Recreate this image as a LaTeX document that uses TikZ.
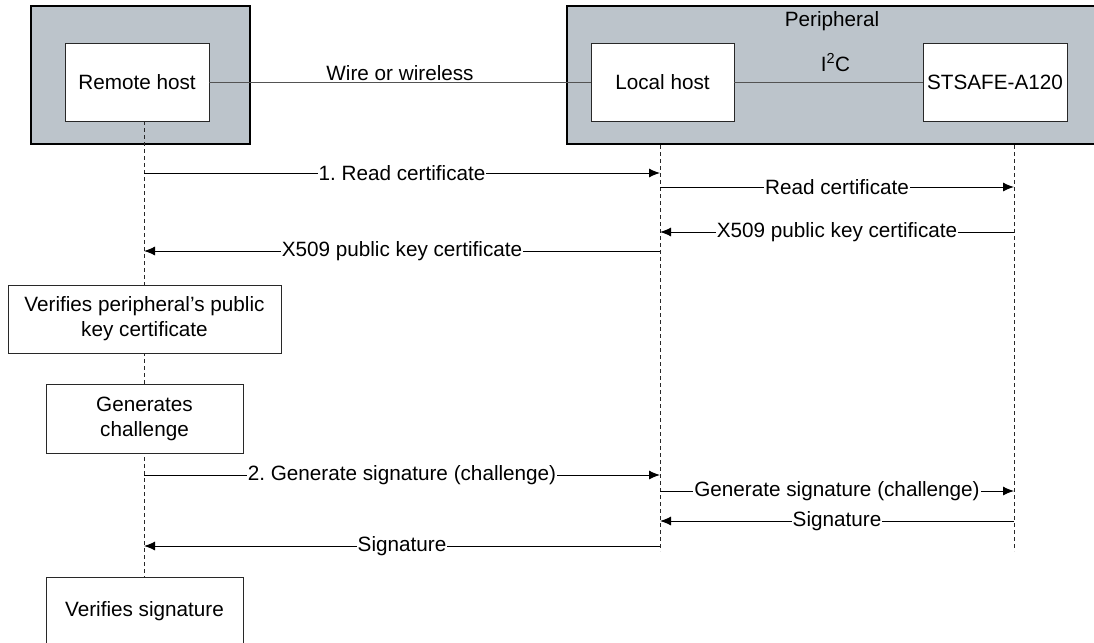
\documentclass[tikz,border=0pt]{standalone}
\usepackage{fontspec}
\setmainfont{Liberation Sans}
\usetikzlibrary{arrows.meta}

\definecolor{framegray}{RGB}{188,196,203}
\definecolor{edgegray}{RGB}{40,40,40}

\begin{document}
\frenchspacing
\begin{tikzpicture}[x = 1pt, y = -1pt, > = {Latex[length = 11pt, width = 9pt]},
	font = \fontsize{20.7}{25}\selectfont,
	frame/.style = {draw = black, fill = framegray, line width = 2pt},
	hostbox/.style = {draw = edgegray, fill = white, line width = 0.9pt, align = center, inner sep = 0pt},
	wire/.style = {draw = edgegray!80, line width = 0.9pt},
	lifeline/.style = {draw = edgegray, line width = 0.7pt, dash pattern = on 4pt off 3pt},
	msg/.style = {->, line width = 1pt},
	msglabel/.style = {midway, fill = white, inner sep = 1pt}]

% Definitions

\def\R{144}		% Remote host lifeline
\def\L{660}		% Local host lifeline
\def\S{1014}	% STSAFE lifeline

\clip (0, 0) rectangle (1094, 642);

% Frames

\draw [frame] (31, 6) rectangle (250, 144);
\draw [frame] (567, 6) rectangle (1110, 144);
\node [anchor = base] (peripheral) at (832, 27) {Peripheral};

% Lifelines

\coordinate (rtop) at (\R, 121);
\coordinate (rbot) at (\R, 577);
\coordinate (ltop) at (\L, 145);
\coordinate (lbot) at (\L, 551);
\coordinate (stop) at (\S, 145);
\coordinate (sbot) at (\S, 551);

\draw [lifeline] (rtop) -- (rbot);
\draw [lifeline] (ltop) -- (lbot);
\draw [lifeline] (stop) -- (sbot);

% Hosts

\node [hostbox, minimum width = 144pt, minimum height = 78pt] (remote) at (137, 82) {Remote host};
\node [hostbox, minimum width = 143pt, minimum height = 78pt] (local) at (662.5, 82) {Local host};
\node [hostbox, minimum width = 144pt, minimum height = 78pt] (stsafe) at (995, 82) {STSAFE-A120};

\draw [wire] (remote) -- (local) node [midway, above, inner sep = 1pt] {Wire or wireless};
\draw [wire] (local) -- (stsafe) node [midway, above = 10pt, inner sep = 0pt, xshift = 7pt] {I\textsuperscript{2}C};

% Remote host steps

\node [hostbox, minimum width = 273pt, minimum height = 68pt] (verifycert) at (144.5, 319) {Verifies peripheral’s public\\key certificate};
\node [hostbox, minimum width = 197pt, minimum height = 69pt] (challenge) at (144.5, 418.5) {Generates\\challenge};
\node [hostbox, minimum width = 197pt, minimum height = 68pt] (verifysig) at (144.5, 611) {Verifies signature};

% Certificate exchange

\coordinate (r1) at (\R, 173);	\coordinate (l1) at (\L, 173);
\coordinate (l2) at (\L, 187);	\coordinate (s2) at (\S, 187);
\coordinate (s3) at (\S, 232);	\coordinate (l3) at (\L, 232);
\coordinate (l4) at (\L, 251);	\coordinate (r4) at (\R, 251);

\draw [msg] (r1) -- (l1) node [msglabel] {1. Read certificate};
\draw [msg] (l2) -- (s2) node [msglabel] {Read certificate};
\draw [msg] (s3) -- (l3) node [msglabel] {X509 public key certificate};
\draw [msg] (l4) -- (r4) node [msglabel] {X509 public key certificate};

% Signature exchange

\coordinate (r5) at (\R, 475);	\coordinate (l5) at (\L, 475);
\coordinate (l6) at (\L, 491);	\coordinate (s6) at (\S, 491);
\coordinate (s7) at (\S, 521);	\coordinate (l7) at (\L, 521);
\coordinate (l8) at (\L, 546);	\coordinate (r8) at (\R, 546);

\draw [msg] (r5) -- (l5) node [msglabel] {2. Generate signature (challenge)};
\draw [msg] (l6) -- (s6) node [msglabel] {Generate signature (challenge)};
\draw [msg] (s7) -- (l7) node [msglabel] {Signature};
\draw [msg] (l8) -- (r8) node [msglabel] {Signature};

\end{tikzpicture}
\end{document}
